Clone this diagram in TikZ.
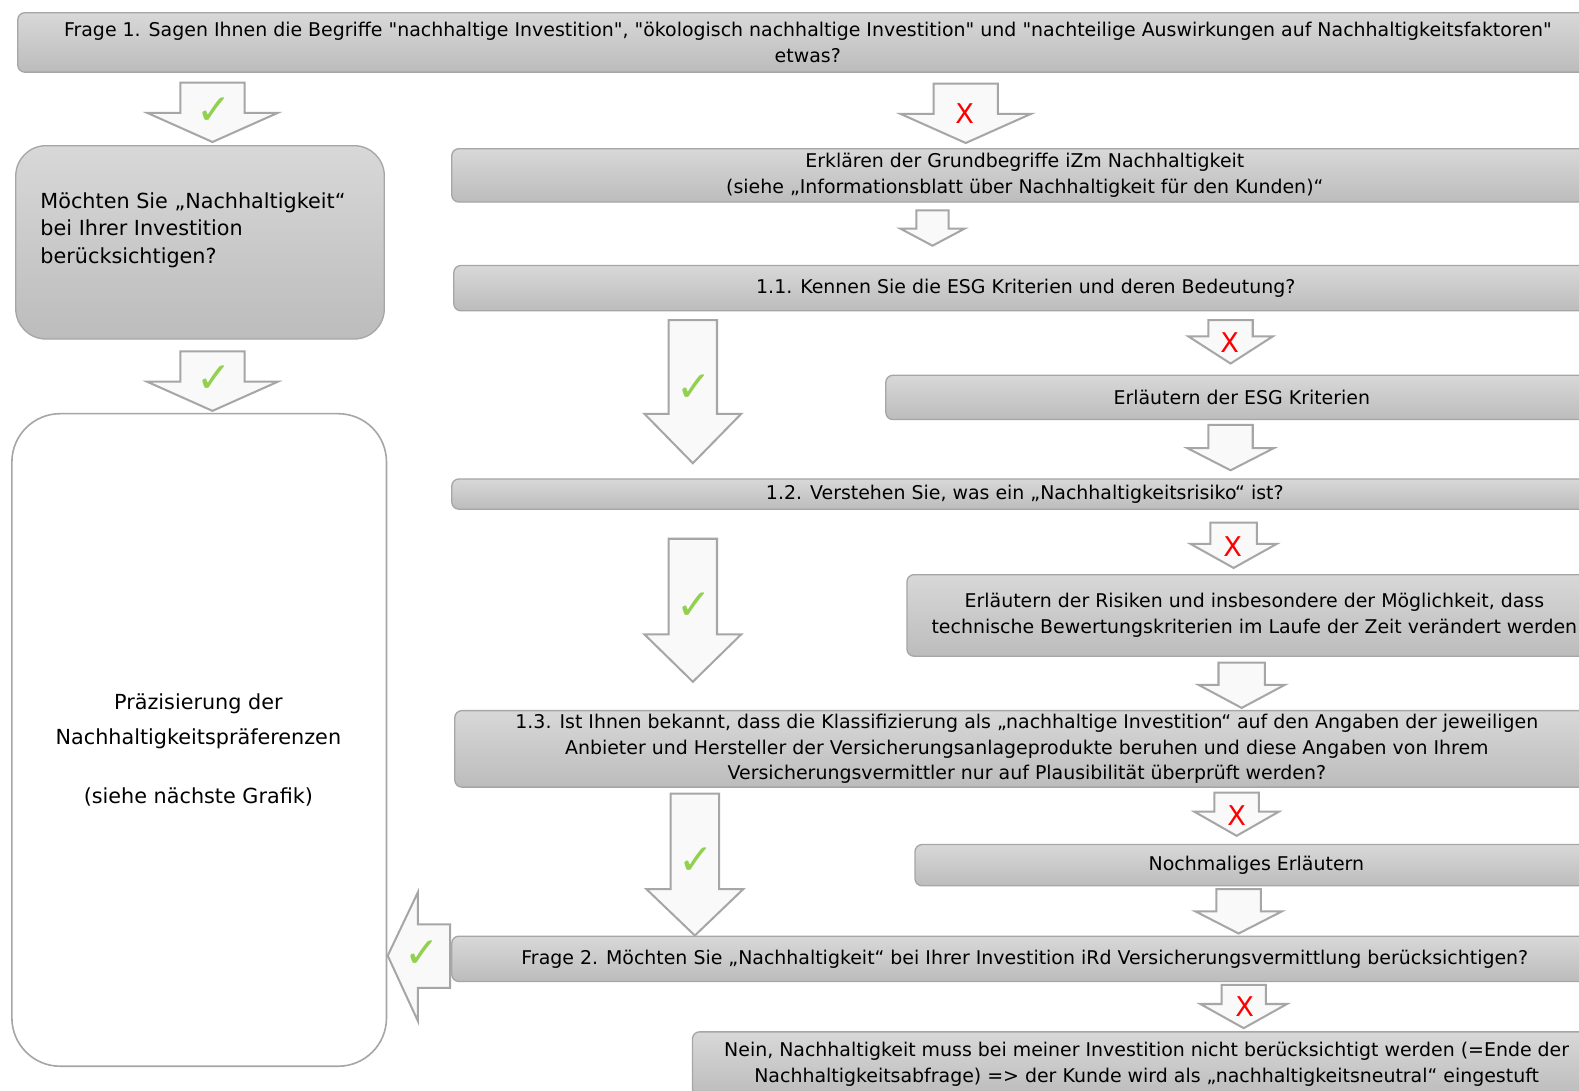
\documentclass[tikz,border=0pt]{standalone}
\usepackage{fontspec}
\setmainfont{DejaVu Sans}[Ligatures=TeXOff]
\definecolor{boxtop}{HTML}{D8D8D8}
\definecolor{boxbot}{HTML}{BCBCBC}
\definecolor{edgegray}{HTML}{A6A6A6}
\definecolor{arrowfill}{HTML}{F9F9F9}
\definecolor{okgreen}{HTML}{92D050}
\definecolor{nored}{HTML}{FF0000}
\newcommand\dnarrow[6]{\draw[barrow] ({#1-#3},#2) -- ({#1+#3},#2) -- ({#1+#3},#5) -- ({#1+#4},#5) -- (#1,#6) -- ({#1-#4},#5) -- ({#1-#3},#5) -- cycle;}
\begin{document}
\begin{tikzpicture}[x=1pt,y=-1pt,
 gbox/.style={draw=edgegray, line width=1.3pt, rounded corners=7pt, top color=boxtop, bottom color=boxbot, anchor=north west, inner sep=0pt, align=center, font=\fontsize{18.8}{25.5}\selectfont},
 barrow/.style={draw=edgegray, line width=2pt, fill=arrowfill, line join=miter},
 okmark/.style={text=okgreen, font=\fontsize{42}{42}\selectfont, inner sep=0pt},
 nomark/.style={text=nored, font=\fontsize{27}{27}\selectfont, inner sep=0pt},
 ltext/.style={inner sep=0pt, font=\fontsize{20.6}{27.5}\selectfont},
]
\useasboundingbox (0,0) rectangle (1568,1083);
\fill[white] (0,0) rectangle (1568,1083);

% boxes
\node[gbox, minimum width=1569, minimum height=59] (q1) at (17,12) {Frage 1. Sagen Ihnen die Begriffe "nachhaltige Investition", "ökologisch nachhaltige Investition" und "nachteilige Auswirkungen auf Nachhaltigkeitsfaktoren"\\etwas?};
\node[gbox, minimum width=366, minimum height=192, rounded corners=30pt] (ja1) at (15,144) {};
\node[ltext, anchor=north west, align=left] (ja1t) at (40,191) {Möchten Sie „Nachhaltigkeit“\\bei Ihrer Investition\\berücksichtigen?};
\node[draw=edgegray, line width=1.6pt, fill=white, rounded corners=48pt, anchor=north west, minimum width=372, minimum height=648, inner sep=0pt] (praez) at (11,410) {};
\node[ltext, align=center, font=\fontsize{20.6}{34}\selectfont] (praezt) at (197,745) {Präzisierung der\\Nachhaltigkeitspräferenzen\\[25pt](siehe nächste Grafik)};

\node[gbox, minimum width=1138, minimum height=53] (erkl) at (448,147) {Erklären der Grundbegriffe iZm Nachhaltigkeit\\(siehe „Informationsblatt über Nachhaltigkeit für den Kunden)“};
\node[gbox, minimum width=1136, minimum height=45] (q11) at (450,263) {1.1. Kennen Sie die ESG Kriterien und deren Bedeutung?};
\node[gbox, minimum width=707, minimum height=44] (esg) at (879,372) {Erläutern der ESG Kriterien};
\node[gbox, minimum width=1138, minimum height=30] (q12) at (448,475) {1.2. Verstehen Sie, was ein „Nachhaltigkeitsrisiko“ ist?};
\node[gbox, minimum width=690, minimum height=81] (risk) at (900,570) {Erläutern der Risiken und insbesondere der Möglichkeit, dass\\technische Bewertungskriterien im Laufe der Zeit verändert werden};
\node[gbox, minimum width=1136, minimum height=76] (q13) at (451,705) {1.3. Ist Ihnen bekannt, dass die Klassifizierung als „nachhaltige Investition“ auf den Angaben der jeweiligen\\Anbieter und Hersteller der Versicherungsanlageprodukte beruhen und diese Angaben von Ihrem\\Versicherungsvermittler nur auf Plausibilität überprüft werden?};
\node[gbox, minimum width=678, minimum height=41] (noch) at (908,838) {Nochmaliges Erläutern};
\node[gbox, minimum width=1138, minimum height=45] (q2) at (448,929) {Frage 2. Möchten Sie „Nachhaltigkeit“ bei Ihrer Investition iRd Versicherungsvermittlung berücksichtigen?};
\node[gbox, minimum width=902, minimum height=64] (nein) at (687,1024) {Nein, Nachhaltigkeit muss bei meiner Investition nicht berücksichtigt werden (=Ende der\\Nachhaltigkeitsabfrage) => der Kunde wird als „nachhaltigkeitsneutral“ eingestuft};

% block arrows
\dnarrow{211}{82}{32}{65}{112}{141}
\node[okmark] (m1) at (213,110) {✓};
\dnarrow{959}{83}{32}{65}{113}{142}
\node[nomark] (x1) at (958,113) {X};
\dnarrow{211}{349}{32}{65}{379}{408}
\node[okmark] (m2) at (213,377) {✓};
\dnarrow{926}{209}{16}{32}{227}{244}
\dnarrow{688}{318}{24}{48}{411}{460}
\node[okmark] (m3) at (689,385) {✓};
\dnarrow{1222}{318}{22}{42}{334}{361}
\node[nomark] (x2) at (1221,340) {X};
\dnarrow{1222}{422}{22}{43}{445}{467}
\dnarrow{1225}{519}{23}{43}{540}{564}
\node[nomark] (x3) at (1224,543) {X};
\dnarrow{688}{535}{24}{48}{630}{677}
\node[okmark] (m4) at (689,602) {✓};
\dnarrow{1233}{658}{23}{43}{680}{703}
\dnarrow{690}{788}{24}{48}{883}{929}
\node[okmark] (m5) at (691,855) {✓};
\dnarrow{1228}{787}{22}{42}{806}{830}
\node[nomark] (x4) at (1228,810) {X};
\dnarrow{1230}{883}{22}{43}{905}{927}
\dnarrow{1235}{978}{22}{43}{997}{1021}
\node[nomark] (x5) at (1236,1000) {X};
\draw[barrow] (447,918) -- (447,981) -- (415,981) -- (415,1014) -- (385,949) -- (415,886) -- (415,918) -- cycle;
\node[okmark] (m6) at (419,948) {✓};
\end{tikzpicture}
\end{document}
